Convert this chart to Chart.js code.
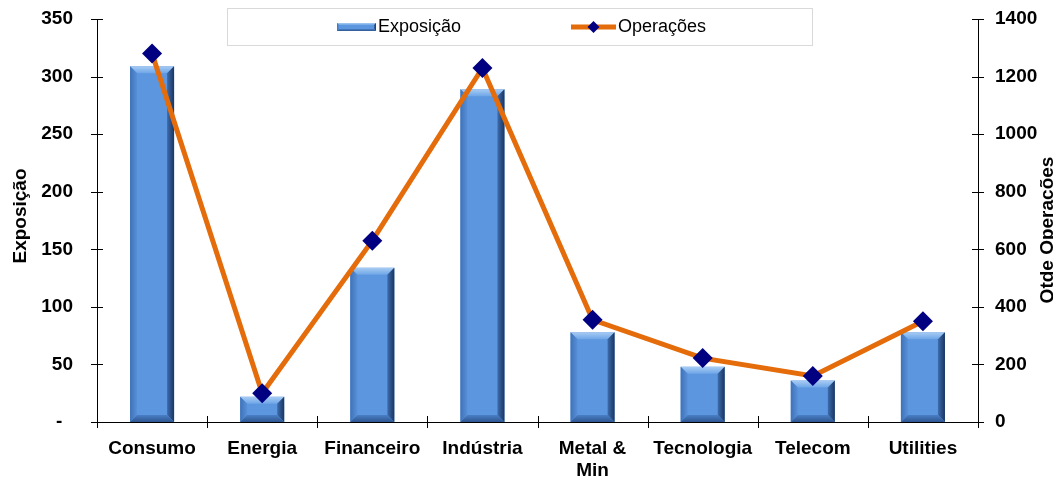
<!DOCTYPE html>
<html>
<head>
<meta charset="utf-8">
<script src="https://cdn.jsdelivr.net/npm/chart.js@4.4.1/dist/chart.umd.min.js"></script>
<style>
  html, body { margin: 0; padding: 0; background: #fff; }
  #wrap { width: 1053px; height: 477px; }
</style>
</head>
<body>
<div id="wrap"><canvas id="setores" width="1053" height="477"></canvas></div>
<script>
// Exposição (left axis) and number of operations (right axis) per sector
const setores = ['Consumo', 'Energia', 'Financeiro', 'Indústria', ['Metal &', 'Min'], 'Tecnologia', 'Telecom', 'Utilities'];
const exposicao = [309, 22, 134, 289, 78, 48, 36, 78];
const operacoes = [1280, 100, 630, 1230, 355, 222, 160, 350];

const exposicaoMax = 350, exposicaoStep = 50;
const operacoesMax = 1400, operacoesStep = 200;

const FONT = 'Arial, "Liberation Sans", sans-serif';
const tickFont = { family: FONT, size: 19, weight: 'bold' };

const BAR_FACE = '#5C96DE';
const LINE_COLOR = '#E46C0A';
const MARKER_COLOR = '#000080';

// 3D-ish bevel over a bar rectangle
function bevel(ctx, l, t, r, b, s) {
  s = Math.min(s, (b - t) / 2, (r - l) / 2);
  ctx.save();
  // top
  let g = ctx.createLinearGradient(0, t, 0, t + s);
  g.addColorStop(0, '#A9CCF3'); g.addColorStop(1, '#6EA6E8');
  ctx.fillStyle = g;
  ctx.beginPath(); ctx.moveTo(l, t); ctx.lineTo(r, t); ctx.lineTo(r - s, t + s); ctx.lineTo(l + s, t + s); ctx.closePath(); ctx.fill();
  // left
  g = ctx.createLinearGradient(l, 0, l + s, 0);
  g.addColorStop(0, '#3F72B8'); g.addColorStop(1, '#5890D8');
  ctx.fillStyle = g;
  ctx.beginPath(); ctx.moveTo(l, t); ctx.lineTo(l + s, t + s); ctx.lineTo(l + s, b - s); ctx.lineTo(l, b); ctx.closePath(); ctx.fill();
  // right
  g = ctx.createLinearGradient(r - s, 0, r, 0);
  g.addColorStop(0, '#3D6CAE'); g.addColorStop(1, '#1A3560');
  ctx.fillStyle = g;
  ctx.beginPath(); ctx.moveTo(r, t); ctx.lineTo(r - s, t + s); ctx.lineTo(r - s, b - s); ctx.lineTo(r, b); ctx.closePath(); ctx.fill();
  // bottom
  g = ctx.createLinearGradient(0, b - s, 0, b);
  g.addColorStop(0, '#4A7FC6'); g.addColorStop(1, '#2E5691');
  ctx.fillStyle = g;
  ctx.beginPath(); ctx.moveTo(l, b); ctx.lineTo(l + s, b - s); ctx.lineTo(r - s, b - s); ctx.lineTo(r, b); ctx.closePath(); ctx.fill();
  ctx.restore();
}

const barBevel = {
  id: 'barBevel',
  afterDatasetDraw(chart, args) {
    if (args.meta.type !== 'bar') return;
    const ctx = chart.ctx;
    args.meta.data.forEach(bar => {
      const p = bar.getProps(['x', 'y', 'base', 'width'], true);
      bevel(ctx, p.x - p.width / 2, p.y, p.x + p.width / 2, p.base, 7);
    });
  }
};

// crossing tick marks on all three axes
const crossTicks = {
  id: 'crossTicks',
  afterDraw(chart) {
    const { ctx, chartArea: a, scales } = chart;
    const len = 6;
    ctx.save();
    ctx.strokeStyle = '#000';
    ctx.lineWidth = 1;
    ctx.beginPath();
    scales.y.ticks.forEach(t => {
      const y = Math.round(scales.y.getPixelForValue(t.value)) + 0.5;
      ctx.moveTo(a.left - len, y); ctx.lineTo(a.left + len, y);
    });
    scales.y1.ticks.forEach(t => {
      const y = Math.round(scales.y1.getPixelForValue(t.value)) + 0.5;
      ctx.moveTo(a.right - len, y); ctx.lineTo(a.right + len, y);
    });
    for (let i = 0; i <= setores.length; i++) {
      const x = Math.round(scales.x.getPixelForValue(i - 0.5)) + 0.5;
      ctx.moveTo(x, a.bottom - len); ctx.lineTo(x, a.bottom + len);
    }
    ctx.stroke();
    ctx.restore();
  }
};

// axis titles (both read bottom-to-top) and the framed legend
const decor = {
  id: 'decor',
  afterDraw(chart) {
    const { ctx } = chart;
    ctx.save();
    ctx.fillStyle = '#000';
    ctx.font = `bold 19px ${FONT}`;
    ctx.textAlign = 'center';
    ctx.textBaseline = 'middle';
    ctx.save(); ctx.translate(21, 216); ctx.rotate(-Math.PI / 2); ctx.fillText('Exposição', 0, 0); ctx.restore();
    ctx.save(); ctx.translate(1048, 230); ctx.rotate(-Math.PI / 2); ctx.fillText('Qtde Operações', 0, 0); ctx.restore();

    // legend frame
    ctx.strokeStyle = '#D9D9D9';
    ctx.lineWidth = 1;
    ctx.strokeRect(227.5, 8.5, 585, 37);
    const cy = 27;
    // bar swatch
    ctx.fillStyle = BAR_FACE;
    ctx.fillRect(337, cy - 4, 39, 8);
    bevel(ctx, 337, cy - 4, 376, cy + 4, 2);
    // line swatch
    ctx.strokeStyle = LINE_COLOR;
    ctx.lineWidth = 5;
    ctx.beginPath(); ctx.moveTo(571, cy); ctx.lineTo(616, cy); ctx.stroke();
    ctx.fillStyle = MARKER_COLOR;
    ctx.beginPath(); ctx.moveTo(593.5, cy - 6); ctx.lineTo(599.5, cy); ctx.lineTo(593.5, cy + 6); ctx.lineTo(587.5, cy); ctx.closePath(); ctx.fill();
    ctx.fillStyle = '#000';
    ctx.font = `18px ${FONT}`;
    ctx.textAlign = 'left';
    ctx.fillText('Exposição', 378, cy);
    ctx.fillText('Operações', 618, cy);
    ctx.restore();
  }
};

// fixed axis box sizes so the plot area sits at 97..978 x 19..422
function fitVertical(width) {
  return s => { s.width = width; s.paddingTop = 0; s.paddingBottom = 0; };
}

const noGrid = { display: false, drawTicks: false };

new Chart(document.getElementById('setores'), {
  data: {
    labels: setores,
    datasets: [
      {
        type: 'line',
        label: 'Operações',
        data: operacoes,
        yAxisID: 'y1',
        order: 0,
        borderColor: LINE_COLOR,
        borderWidth: 5,
        tension: 0,
        pointStyle: 'rectRot',
        pointRadius: 10,
        pointBackgroundColor: MARKER_COLOR,
        pointBorderColor: MARKER_COLOR,
        pointBorderWidth: 0
      },
      {
        type: 'bar',
        label: 'Exposição',
        data: exposicao,
        yAxisID: 'y',
        order: 1,
        backgroundColor: BAR_FACE,
        borderWidth: 0,
        barPercentage: 0.4,
        categoryPercentage: 1
      }
    ]
  },
  options: {
    responsive: false,
    devicePixelRatio: 1,
    animation: false,
    layout: { padding: { top: 19, left: 0, right: 0, bottom: 0 } },
    plugins: { legend: { display: false }, tooltip: { enabled: false } },
    scales: {
      x: {
        offset: true,
        grid: noGrid,
        border: { display: true, color: '#000', width: 1 },
        ticks: { color: '#000', font: tickFont, padding: 15, maxRotation: 0, autoSkip: false },
        afterFit(s) { s.height = 55; s.paddingLeft = 0; s.paddingRight = 0; }
      },
      y: {
        position: 'left',
        min: 0, max: exposicaoMax,
        grid: noGrid,
        border: { display: true, color: '#000', width: 1 },
        ticks: {
          stepSize: exposicaoStep, color: '#000', font: tickFont, padding: 24,
          callback: v => (v === 0 ? '-  ' : v)
        },
        afterFit: fitVertical(97)
      },
      y1: {
        position: 'right',
        min: 0, max: operacoesMax,
        grid: noGrid,
        border: { display: true, color: '#000', width: 1 },
        ticks: { stepSize: operacoesStep, color: '#000', font: tickFont, padding: 17, callback: v => String(v) },
        afterFit: fitVertical(75)
      }
    }
  },
  plugins: [barBevel, crossTicks, decor]
});
</script>
</body>
</html>
